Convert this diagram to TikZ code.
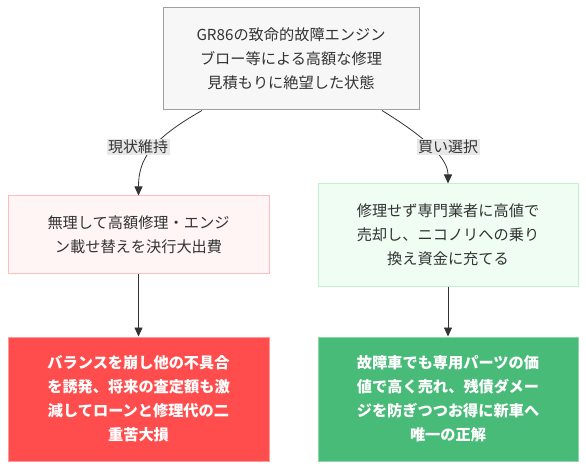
\documentclass[tikz,border=0pt]{standalone}
\usepackage{fontspec}
\setmainfont{Noto Sans CJK JP}
\usetikzlibrary{arrows.meta}

\definecolor{topfill}{HTML}{F7F7F7}
\definecolor{topline}{HTML}{A0A0A0}
\definecolor{badfill}{HTML}{FFF5F5}
\definecolor{badline}{HTML}{FFBDBD}
\definecolor{goodfill}{HTML}{EFFDF3}
\definecolor{goodline}{HTML}{C2F0D2}
\definecolor{lossfill}{HTML}{FF4D4D}
\definecolor{lossline}{HTML}{FF9A9A}
\definecolor{winfill}{HTML}{48BB78}
\definecolor{winline}{HTML}{8AD8AA}
\definecolor{edgegray}{HTML}{333333}
\definecolor{tagfill}{HTML}{E8E8E8}

\begin{document}
\begin{tikzpicture}[x=1pt, y=-1pt,
    box/.style={draw, line width=1pt, align=center, inner sep=0pt, text=edgegray,
        font=\fontsize{15.2}{24}\selectfont},
    tag/.style={fill=tagfill, inner sep=1.5pt, text=edgegray,
        font=\fontsize{15}{18}\selectfont},
    edge/.style={draw=edgegray, line width=0.8pt, -{Triangle[length=9pt,width=8pt]}}]

        \useasboundingbox (0,0) rectangle (586,470);

        % Starting point
        \node[box, fill=topfill, draw=topline, minimum width=256pt, minimum height=102pt]
            (start) at (291,59) {GR86の致命的故障エンジン\\ブロー等による高額な修理\\見積もりに絶望した状態};

        % Two choices
        \node[box, fill=badfill, draw=badline, minimum width=261pt, minimum height=78pt]
            (repair) at (138.5,235) {無理して高額修理・エンジ\\ン載せ替えを決行大出費};
        \node[box, fill=goodfill, draw=goodline, minimum width=260pt, minimum height=102pt]
            (sell) at (448,235) {修理せず専門業者に高値で\\売却し、ニコノリへの乗り\\換え資金に充てる};

        % Outcomes
        \node[box, fill=lossfill, draw=lossline, text=white, minimum width=261pt, minimum height=124pt]
            (loss) at (138.5,399) {\bfseries バランスを崩し他の不具合\\\bfseries を誘発、将来の査定額も激\\\bfseries 減してローンと修理代の二\\\bfseries 重苦大損};
        \node[box, fill=winfill, draw=winline, text=white, minimum width=260pt, minimum height=124pt]
            (win) at (448,399) {\bfseries 故障車でも専用パーツの価\\\bfseries 値で高く売れ、残債ダメー\\\bfseries ジを防ぎつつお得に新車へ\\\bfseries 唯一の正解};

        % Branches
        \draw[edge] ([xshift=-89pt]start.south) .. controls (150,140) and (138.5,160) .. (repair.north);
        \draw[edge] ([xshift=91pt]start.south) .. controls (430,140) and (448,160) .. (sell.north);
        \draw[edge] (repair) -- (loss);
        \draw[edge] (sell) -- (win);

        % Branch labels
        \node[tag] (keep) at (138,147) {現状維持};
        \node[tag] (buy) at (448,147) {買い選択};
    \end{tikzpicture}
\end{document}
